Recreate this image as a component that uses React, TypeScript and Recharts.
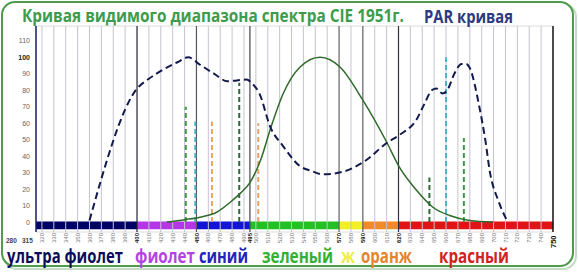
import React from 'react';
import { ComposedChart, Line, XAxis, YAxis, CartesianGrid, ReferenceLine, ReferenceArea } from 'recharts';

// PAR curve (dashed)
const parX = [360, 400, 410, 422, 434, 443, 453, 465, 476, 484, 492, 497, 503, 512, 523, 537, 547, 556, 573, 593, 610, 621, 635, 642, 648, 652, 657, 661, 667, 673, 677, 680, 688, 693, 697, 704, 712];
const parY = [1, 81, 87, 92.5, 97, 100, 95.5, 90, 85.5, 86, 86.5, 84, 78, 58, 46, 34, 31, 29, 30.5, 37.7, 48, 53, 62, 72, 80, 81, 78, 80, 90, 96, 96, 93.5, 70, 50, 30, 13, 0];

// CIE 1951 visibility curve
const cieX = [425, 440, 453, 467, 480, 487, 495, 504, 512, 523, 537, 554, 571, 590, 610, 621, 635, 649, 663, 680, 700];
const cieY = [0, 1.5, 3, 6, 13, 17.6, 24, 37.7, 56, 78, 94, 100, 94, 74, 48.6, 33, 19.5, 9, 4, 1, 0];

// absorption peaks (vertical dashed markers)
const markX = [441, 449, 463, 486, 502, 646, 660, 675];
const markH = [70, 61, 61, 84.5, 60, 27, 100, 51];
const markColor = ['#3f9a48', '#4cb4c4', '#e3a468', '#2e6a3c', '#e3a468', '#2e6a3c', '#4cb4c4', '#3f9a48'];

// spectrum bands
const bandFrom = [315, 400, 450, 495, 570, 590, 620];
const bandTo = [400, 450, 495, 570, 590, 620, 750];
const bandColor = ['#000066', '#b436e6', '#1414d4', '#22c022', '#f2f022', '#f08a2a', '#e01414'];

const xTicks = [320, 330, 340, 350, 360, 370, 380, 390, 400, 410, 420, 430, 440, 450, 460, 470, 480, 490, 495, 500, 510, 520, 530, 540, 550, 560, 570, 580, 590, 600, 610, 620, 630, 640, 650, 660, 670, 680, 690, 700, 710, 720, 730, 740, 750];
const yTicks = [0, 10, 20, 30, 40, 50, 60, 70, 80, 90, 100, 110];
const gridX = [320, 330, 340, 350, 360, 370, 380, 390, 410, 420, 430, 440, 460, 470, 480, 490, 500, 510, 520, 530, 540, 550, 560, 580, 600, 610, 630, 640, 650, 660, 670, 680, 690, 700, 710, 720, 730, 740];
const darkX = [315, 400, 450, 495, 570, 590, 620, 750];
const darkColor = ['#1a1a66', '#222233', '#555560', '#444450', '#606068', '#606068', '#333340', '#111111'];

const bottomWords = ['ультра фиолет', 'фиолет', 'синий', 'зеленый', 'ж', 'оранж', 'красный'];
const bottomColor = ['#0c0c5a', '#b444e2', '#2424bc', '#34b034', '#eeee44', '#e4842e', '#d02424'];

const parData = parX.map((x, i) => ({ x, par: parY[i] }));
const cieData = cieX.map((x, i) => ({ x, cie: cieY[i] }));

const boldTicks = [400, 450, 495, 570, 590, 620, 750];

const XTick = (props: any) => {
  const { x, y, payload } = props;
  const v = payload.value;
  const bold = boldTicks.includes(v);
  const big = v === 750;
  const ty = y + (big ? 16 : 11);
  return (
    <text x={x} y={ty} transform={`rotate(-90 ${x} ${ty})`} textAnchor="start" dy="0.35em"
      fontSize={big ? 7.5 : 6} fontWeight={bold ? 700 : 400} fill={bold ? '#111' : '#777'}
      fontFamily="Liberation Sans">{v}</text>
  );
};

const YTick = (props: any) => {
  const { x, y, payload, textAnchor } = props;
  return (
    <text x={x} y={y} dy="0.35em" textAnchor={textAnchor} fontSize={7} fontWeight={payload.value === 100 ? 700 : 400}
      fill={payload.value === 100 ? '#222' : '#666'} fontFamily="Liberation Sans">{payload.value}</text>
  );
};

const wordX = [7, 135, 199, 262, 341, 361, 439];
const wordW = [116, 60, 49, 71, 14, 51, 70];

export default function App() {
  return (
    <div style={{ position: 'absolute', left: 0, top: 0, width: 578, height: 272, background: '#fff' }}>
      <svg width={578} height={272} style={{ position: 'absolute', left: 0, top: 0 }}>
        <rect x={4} y={4} width={572} height={265} rx={13} fill="none" stroke="#c4dcc4" strokeWidth={2} />
        <rect x={2} y={2} width={571} height={264} rx={13} fill="#fff" stroke="#4c9c4c" strokeWidth={2} />
      </svg>
      <div style={{ position: 'absolute', left: 0, top: 0 }}>
        <ComposedChart width={578} height={272} margin={{ top: 26, right: 0, bottom: 0, left: 0 }}>
          <CartesianGrid vertical={false} stroke="#dcdcdc" />
          <XAxis type="number" dataKey="x" domain={[315, 750]} ticks={xTicks} allowDuplicatedCategory={false}
            height={40} axisLine={false} tickLine={false} tickSize={0} tickMargin={0} tick={<XTick />} interval={0} />
          <YAxis yAxisId="l" type="number" domain={[-6, 119]} ticks={yTicks} width={36} axisLine={false}
            tickLine={false} tickSize={0} tickMargin={6} tick={<YTick />} interval={0} />
          <YAxis yAxisId="r" orientation="right" type="number" domain={[-6, 119]} ticks={yTicks} width={25}
            axisLine={false} tickLine={false} tickSize={0} tickMargin={4} tick={<YTick />} interval={0} />
          {gridX.map((v) => (
            <ReferenceLine key={'g' + v} yAxisId="l" x={v} stroke="#c4c4d0" strokeWidth={1} />
          ))}
          {darkX.map((v, i) => (
            <ReferenceLine key={'d' + v} yAxisId="l" x={v} stroke={darkColor[i]} strokeWidth={v === 315 || v === 750 ? 1.5 : 1.2} />
          ))}
          {bandFrom.map((v, i) => (
            <ReferenceArea key={'b' + v} yAxisId="l" x1={v} x2={bandTo[i]} y1={-4.4} y2={0.4} fill={bandColor[i]} fillOpacity={1} stroke="none" />
          ))}
          {markX.map((v, i) => (
            <ReferenceLine key={'m' + v} yAxisId="l" segment={[{ x: v, y: 0 }, { x: v, y: markH[i] }]}
              stroke={markColor[i]} strokeWidth={2} strokeDasharray="5 3" />
          ))}
          <Line yAxisId="l" data={cieData} dataKey="cie" type="monotone" stroke="#2f6a2a" strokeWidth={1.5}
            dot={false} isAnimationActive={false} />
          <Line yAxisId="l" data={parData} dataKey="par" type="monotone" stroke="#121a4e" strokeWidth={2}
            strokeDasharray="7 4" dot={false} isAnimationActive={false} />
        </ComposedChart>
      </div>
      <svg width={578} height={272} style={{ position: 'absolute', left: 0, top: 0, pointerEvents: 'none' }}>
        <text x={22} y={22} fontSize={17} fontWeight={700} fill="#3c9c4c" fontFamily="Open Sans"
          textLength={382} lengthAdjust="spacingAndGlyphs">Кривая видимого диапазона спектра CIE 1951г.</text>
        <text x={424} y={23} fontSize={17} fontWeight={700} fill="#2c3a82" fontFamily="Open Sans"
          textLength={89} lengthAdjust="spacingAndGlyphs">PAR кривая</text>
        <text x={6} y={243} fontSize={6.5} fontWeight={700} fill="#444" fontFamily="Liberation Sans">280</text>
        <text x={22} y={243} fontSize={6.5} fontWeight={700} fill="#444" fontFamily="Liberation Sans">315</text>
        {bottomWords.map((w, i) => (
          <text key={w} x={wordX[i]} y={263} fontSize={19} fontWeight={700} fill={bottomColor[i]}
            fontFamily="Open Sans" textLength={wordW[i]} lengthAdjust="spacingAndGlyphs">{w}</text>
        ))}
      </svg>
    </div>
  );
}
